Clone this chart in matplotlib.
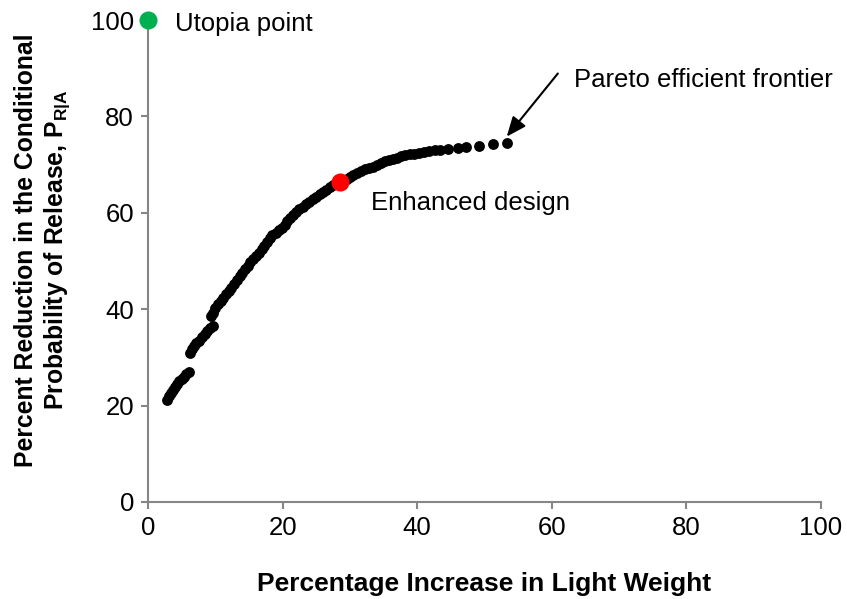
import matplotlib
matplotlib.use("Agg")
import matplotlib.pyplot as plt

plt.rcParams['font.family'] = ['Liberation Sans', 'DejaVu Sans']
plt.rcParams['mathtext.fontset'] = 'custom'
plt.rcParams['mathtext.rm'] = 'Liberation Sans'
plt.rcParams['mathtext.bf'] = 'Liberation Sans:bold'

# Pareto frontier designs: % weight increase vs % reduction in P(R|A)
weight_increase = [
    2.8, 3.1, 3.4, 3.7, 4.0, 4.3, 4.6, 5.0, 5.3, 5.7, 6.1,
    6.3, 6.6, 6.9, 7.2, 7.6, 8.0, 8.4, 8.8, 9.2, 9.6,
    9.3, 9.6, 10.0, 10.4, 10.8, 11.2, 11.6, 12.0, 12.4, 12.8, 13.2, 13.6,
    14.0, 14.4, 14.8, 15.2, 15.6, 16.0, 16.5, 16.9, 17.3, 17.7, 18.1, 18.5,
    19.0, 19.4, 19.9, 20.3, 20.7, 21.1, 21.5, 22.0, 22.5, 23.0, 23.5, 24.0,
    24.5, 25.0, 25.5, 26.0, 26.5, 27.0, 27.5, 28.0,
    29.0, 29.5, 30.0, 30.5, 31.0, 31.6, 32.2, 32.8, 33.4, 34.0, 34.6, 35.2,
    35.8, 36.4, 37.0, 37.6, 38.2, 38.9, 39.6, 40.3, 41.0, 41.8, 42.6, 43.4,
    44.6, 46.0, 47.2, 49.2, 51.3, 53.3,
]
release_reduction = [
    21.2, 22.0, 22.7, 23.3, 23.9, 24.5, 25.0, 25.6, 26.0, 26.5, 27.0,
    31.0, 31.7, 32.3, 32.9, 33.5, 34.2, 34.8, 35.4, 36.0, 36.6,
    38.6, 39.3, 40.2, 41.0, 41.7, 42.4, 43.1, 43.8, 44.4, 45.2, 46.0, 46.8,
    47.6, 48.3, 49.0, 49.8, 50.5, 51.1, 51.7, 52.4, 53.2, 54.0, 54.7, 55.3,
    55.9, 56.4, 56.9, 57.4, 58.2, 59.0, 59.6, 60.2, 60.8, 61.3, 61.8, 62.3,
    62.8, 63.2, 63.8, 64.3, 64.8, 65.3, 65.7, 66.0,
    66.6, 67.0, 67.4, 67.8, 68.2, 68.6, 69.0, 69.3, 69.6, 70.0, 70.4, 70.7,
    71.0, 71.2, 71.4, 71.7, 71.9, 72.1, 72.3, 72.5, 72.7, 72.9, 73.0, 73.1,
    73.3, 73.5, 73.7, 73.9, 74.2, 74.4,
]
enhanced = (28.5, 66.3)
utopia = (0.0, 100.0)

x_ticks = [0, 20, 40, 60, 80, 100]
y_ticks = [0, 20, 40, 60, 80, 100]

fig = plt.figure(figsize=(8.47, 5.99), dpi=100)
ax = fig.add_axes([0.1747, 0.162, 0.7946, 0.8046])

ax.plot(weight_increase, release_reduction, 'o', color='black',
        markersize=7.8, markeredgewidth=0, zorder=3)
ax.plot(*enhanced, 'o', color='#ff0000', markersize=13,
        markeredgewidth=0, zorder=4)
ax.plot(*utopia, 'o', color='#00b050', markersize=13,
        markeredgewidth=0, zorder=4, clip_on=False)

ax.set_xlim(0, 100)
ax.set_ylim(0, 100)
ax.set_xticks(x_ticks)
ax.set_yticks(y_ticks)

gray = '#868686'
for side in ('top', 'right'):
    ax.spines[side].set_visible(False)
for side in ('left', 'bottom'):
    ax.spines[side].set_color(gray)
    ax.spines[side].set_linewidth(1.5)
ax.tick_params(axis='both', direction='out', length=5, width=1.5,
               color=gray, labelsize=18.5, labelcolor='black', pad=5)

ax.set_xlabel('Percentage Increase in Light Weight', fontsize=19,
              fontweight='bold', labelpad=23)
ax.set_ylabel('Percent Reduction in the Conditional\n'
              r'Probability of Release, $\mathbf{P_{R|A}}$',
              fontsize=17.8, fontweight='bold', linespacing=1.2)
ax.yaxis.set_label_coords(-0.113, 0.523)

ax.text(4.0, 97.8, 'Utopia point', fontsize=18.5, va='baseline', ha='left')
ax.text(33.1, 60.6, 'Enhanced design', fontsize=18.5, va='baseline',
        ha='left')
ax.text(63.3, 86.2, 'Pareto efficient frontier', fontsize=18.5,
        va='baseline', ha='left')
ax.annotate('', xy=(53.3, 75.8), xytext=(60.9, 88.9),
            arrowprops=dict(arrowstyle='-|>,head_length=0.6,head_width=0.25',
                            color='black', lw=1.5, mutation_scale=20,
                            shrinkA=0, shrinkB=0))

fig.savefig('out.png', dpi=100)
